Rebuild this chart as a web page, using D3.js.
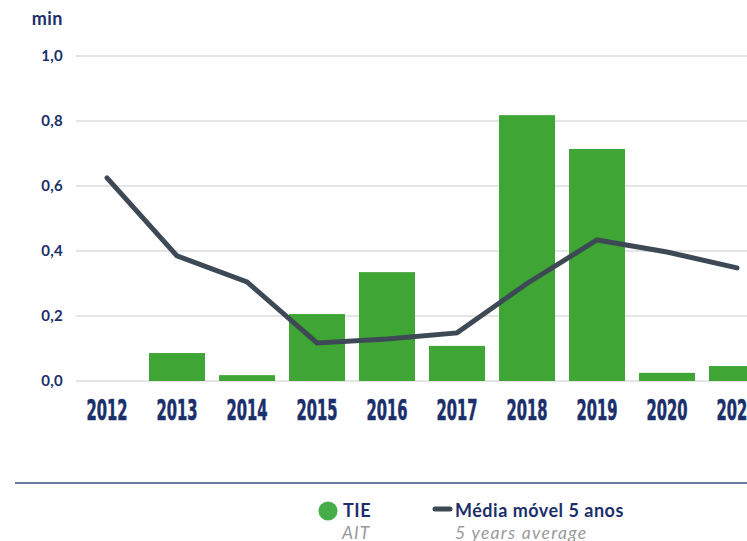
<!DOCTYPE html>
<html>
<head>
<meta charset="utf-8">
<script src="https://cdn.jsdelivr.net/npm/d3@7"></script>
<style>
  body { margin: 0; background: #fff; }
  svg { display: block; }
</style>
</head>
<body>
<div id="chart"></div>
<script>
// ---- data ----
var years = ["2012", "2013", "2014", "2015", "2016", "2017", "2018", "2019", "2020", "2021"];
var tie = [0, 0.086, 0.018, 0.206, 0.335, 0.108, 0.818, 0.714, 0.025, 0.046];
var avg5 = [0.625, 0.385, 0.305, 0.117, 0.129, 0.148, 0.30, 0.434, 0.397, 0.348];
var yTicks = [0, 0.2, 0.4, 0.6, 0.8, 1.0];

const width = 747;
const height = 541;
const navy = "#1b2f6b";
const green = "#3fa535";
const lineCol = "#3d4a55";

const svg = d3.select("#chart").append("svg")
    .attr("width", width)
    .attr("height", height);

//----------------------------SCALES-----------------------------//
var xScale = d3.scaleBand().domain(years).range([72, 772])
    .paddingInner(0.2).paddingOuter(0.1);
var yScale = d3.scaleLinear().domain([0, 1]).range([381, 56]);

//-----------------------------GRID------------------------------//
svg.append("g")
    .selectAll("line")
    .data(yTicks)
    .join("line")
    .attr("x1", 76)
    .attr("x2", width)
    .attr("y1", d => yScale(d))
    .attr("y2", d => yScale(d))
    .attr("stroke", "#dcdcdc")
    .attr("stroke-width", 1.3);

svg.append("g")
    .selectAll("text")
    .data(yTicks)
    .join("text")
    .attr("x", 63)
    .attr("y", d => yScale(d) + 5)
    .attr("text-anchor", "end")
    .attr("font-family", "Lato, sans-serif")
    .attr("font-weight", "bold")
    .attr("font-size", 15)
    .attr("letter-spacing", 0.3)
    .attr("fill", navy)
    .text(d => d3.format(".1f")(d).replace(".", ","));

svg.append("text")
    .attr("x", 63)
    .attr("y", 25)
    .attr("text-anchor", "end")
    .attr("font-family", "Lato, sans-serif")
    .attr("font-weight", "bold")
    .attr("font-size", 18)
    .attr("letter-spacing", 0.5)
    .attr("fill", navy)
    .text("min");

//-----------------------------BARS------------------------------//
svg.append("g")
    .selectAll("rect")
    .data(years)
    .join("rect")
    .attr("x", d => xScale(d))
    .attr("width", xScale.bandwidth())
    .attr("y", (d, i) => yScale(tie[i]))
    .attr("height", (d, i) => yScale(0) - yScale(tie[i]))
    .attr("fill", green);

//----------------------------LINE-------------------------------//
var line = d3.line()
    .x((d, i) => xScale(years[i]) + xScale.bandwidth() / 2)
    .y(d => yScale(d));

svg.append("path")
    .attr("fill", "none")
    .attr("stroke", lineCol)
    .attr("stroke-width", 5)
    .attr("stroke-linejoin", "miter")
    .attr("stroke-linecap", "round")
    .attr("d", line(avg5));

//---------------------------X LABELS----------------------------//
svg.append("g")
    .selectAll("text")
    .data(years)
    .join("text")
    .attr("x", d => xScale(d) + xScale.bandwidth() / 2)
    .attr("y", 420)
    .attr("text-anchor", "middle")
    .attr("font-family", "'Liberation Sans Narrow', 'DejaVu Sans Condensed', sans-serif")
    .attr("font-weight", "bold")
    .attr("font-size", 29)
    .attr("textLength", 41)
    .attr("lengthAdjust", "spacingAndGlyphs")
    .attr("fill", navy)
    .attr("stroke", navy)
    .attr("stroke-width", 0.6)
    .text(d => d);

//--------------------------BOTTOM RULE--------------------------//
svg.append("line")
    .attr("x1", 15).attr("x2", width)
    .attr("y1", 483).attr("y2", 483)
    .attr("stroke", "#3d4c7d")
    .attr("stroke-width", 1.5);

//----------------------------LEGEND-----------------------------//
var legend = svg.append("g").attr("font-family", "Lato, sans-serif");

legend.append("circle")
    .attr("cx", 328).attr("cy", 511).attr("r", 9.5)
    .attr("fill", "#46ad4a");
legend.append("text")
    .attr("x", 343).attr("y", 517)
    .attr("font-size", 18).attr("font-weight", "bold")
    .attr("letter-spacing", 0.5)
    .attr("fill", navy).text("TIE");
legend.append("text")
    .attr("x", 342).attr("y", 539)
    .attr("font-size", 17.5).attr("font-style", "italic")
    .attr("letter-spacing", 1)
    .attr("fill", "#9a9a9a").text("AIT");

legend.append("line")
    .attr("x1", 435).attr("x2", 450)
    .attr("y1", 509).attr("y2", 509)
    .attr("stroke", lineCol).attr("stroke-width", 5)
    .attr("stroke-linecap", "round");
legend.append("text")
    .attr("x", 455).attr("y", 517)
    .attr("font-size", 18).attr("font-weight", "bold")
    .attr("letter-spacing", 0.5)
    .attr("fill", navy).text("Média móvel 5 anos");
legend.append("text")
    .attr("x", 455).attr("y", 539)
    .attr("font-size", 17.5).attr("font-style", "italic")
    .attr("letter-spacing", 1.3)
    .attr("fill", "#9a9a9a").text("5 years average");
</script>
</body>
</html>
